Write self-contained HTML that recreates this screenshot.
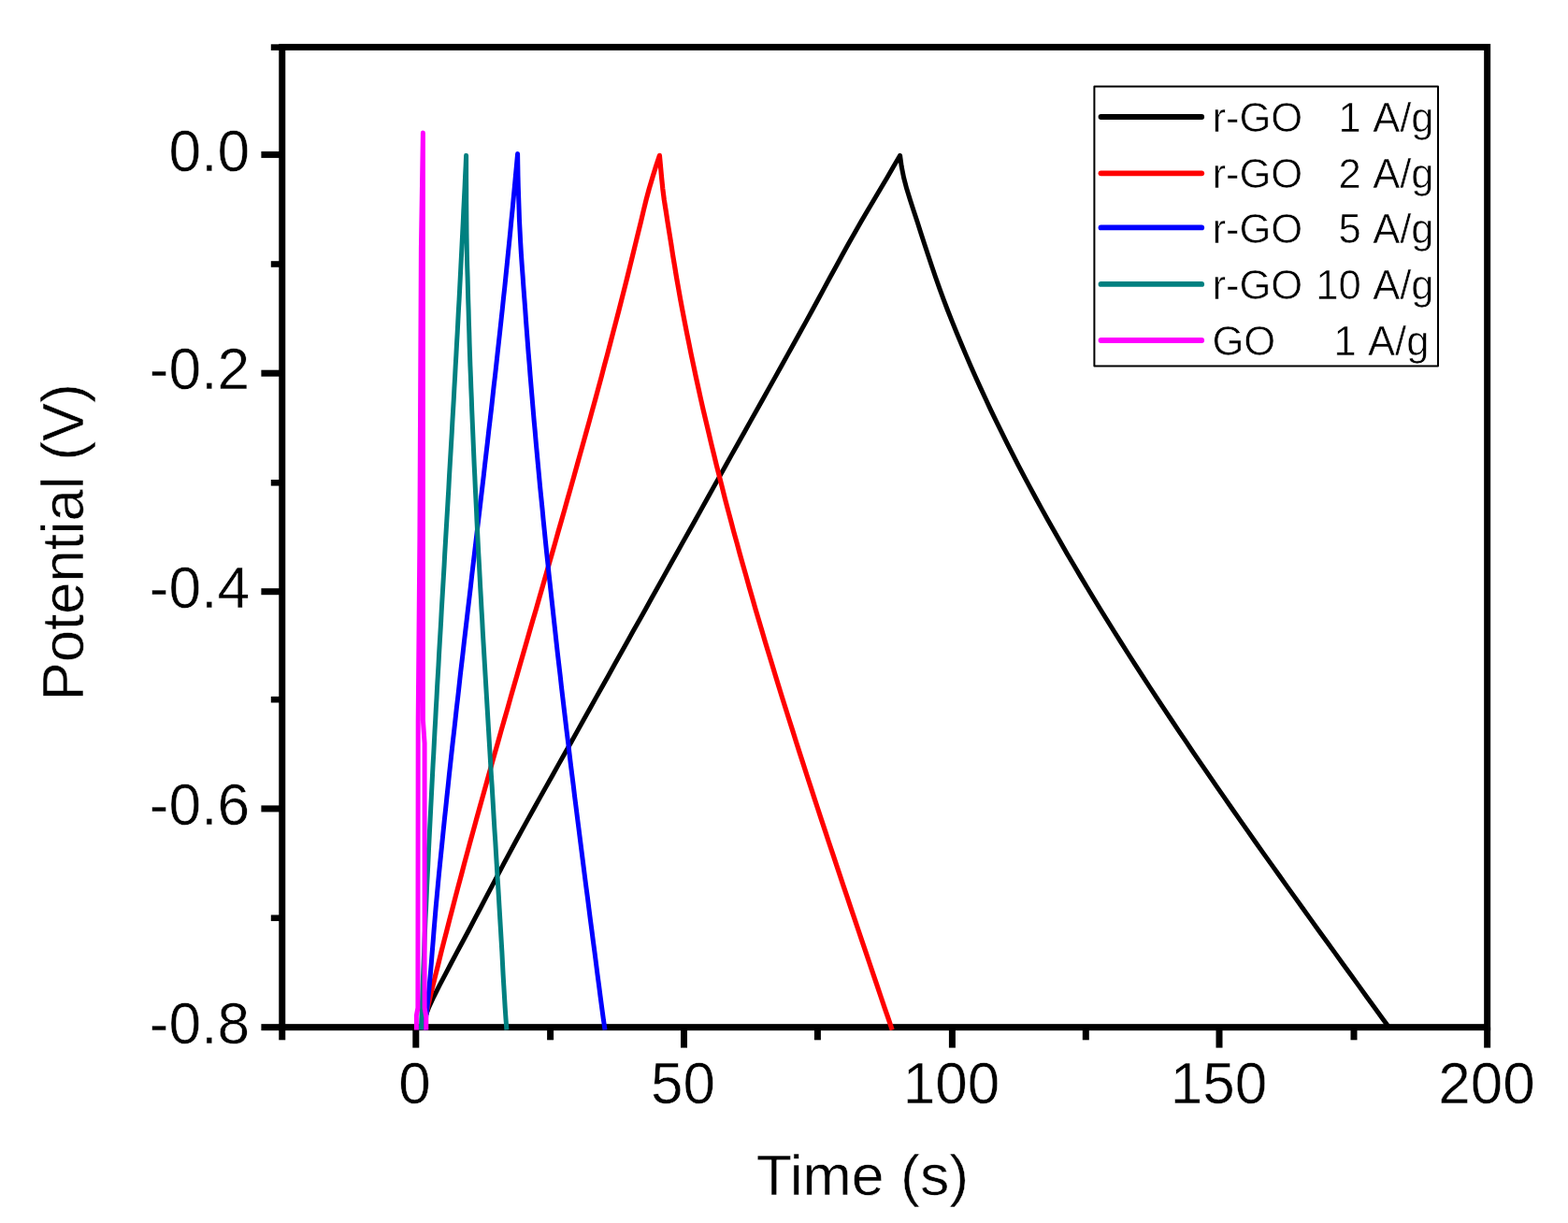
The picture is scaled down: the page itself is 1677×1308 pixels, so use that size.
<!DOCTYPE html>
<html lang="en">
<head>
<meta charset="utf-8">
<title>Galvanostatic charge-discharge curves</title>
<style>
html,body{margin:0;padding:0;background:#fff;}
body{width:1677px;height:1308px;overflow:hidden;}
svg{display:block;filter:blur(0.4px);}
</style>
</head>
<body>
<svg width="1677" height="1308" viewBox="0 0 1677 1308" role="img" aria-label="Galvanostatic charge-discharge curves: Potential (V) versus Time (s)">
<rect x="0" y="0" width="1677" height="1308" fill="#ffffff"/>
<g fill="none" stroke="#000" stroke-width="7" stroke-linecap="butt">
<rect x="301.75" y="50.4" width="1288.9" height="1048.25"/>
<line x1="279.4" y1="165.4" x2="301.75" y2="165.4"/>
<line x1="279.4" y1="399.2" x2="301.75" y2="399.2"/>
<line x1="279.4" y1="632.7" x2="301.75" y2="632.7"/>
<line x1="279.4" y1="864.9" x2="301.75" y2="864.9"/>
<line x1="279.4" y1="1098.65" x2="301.75" y2="1098.65"/>
<line x1="289.8" y1="50.6" x2="301.75" y2="50.6" stroke-width="6.6"/>
<line x1="289.8" y1="282.5" x2="301.75" y2="282.5" stroke-width="6.6"/>
<line x1="289.8" y1="516.3" x2="301.75" y2="516.3" stroke-width="6.6"/>
<line x1="289.8" y1="748.2" x2="301.75" y2="748.2" stroke-width="6.6"/>
<line x1="289.8" y1="981.8" x2="301.75" y2="981.8" stroke-width="6.6"/>
<line x1="444.8" y1="1098.65" x2="444.8" y2="1120.6"/>
<line x1="731.5" y1="1098.65" x2="731.5" y2="1120.6"/>
<line x1="1018.4" y1="1098.65" x2="1018.4" y2="1120.6"/>
<line x1="1304.0" y1="1098.65" x2="1304.0" y2="1120.6"/>
<line x1="1590.65" y1="1098.65" x2="1590.65" y2="1120.6"/>
<line x1="301.75" y1="1098.65" x2="301.75" y2="1112.3"/>
<line x1="588.6" y1="1098.65" x2="588.6" y2="1112.3"/>
<line x1="874.4" y1="1098.65" x2="874.4" y2="1112.3"/>
<line x1="1161.3" y1="1098.65" x2="1161.3" y2="1112.3"/>
<line x1="1448.0" y1="1098.65" x2="1448.0" y2="1112.3"/>
</g>
<defs><clipPath id="plotclip"><rect x="298.25" y="46.9" width="1295.9" height="1055.2"/></clipPath></defs>
<g fill="none" stroke-width="5.0" stroke-linejoin="round" stroke-linecap="butt" clip-path="url(#plotclip)">
<polyline stroke="#000000" stroke-width="5.0" points="450.5,1101.5 453.9,1089.7 458.5,1077.8 463.9,1066.0 469.9,1054.1 476.1,1042.3 482.3,1030.5 488.6,1018.6 495.0,1006.8 501.3,995.0 507.5,983.1 513.8,971.3 520.0,959.4 526.2,947.6 532.4,935.8 538.7,923.9 545.0,912.1 551.4,900.3 557.9,888.4 564.4,876.6 571.0,864.7 577.6,852.9 584.2,841.1 590.9,829.2 597.5,817.4 604.2,805.6 610.9,793.7 617.5,781.9 624.1,770.0 630.7,758.2 637.3,746.4 644.0,734.5 650.6,722.7 657.2,710.8 663.8,699.0 670.4,687.2 677.0,675.3 683.7,663.5 690.3,651.7 696.9,639.8 703.5,628.0 710.1,616.1 716.7,604.3 723.3,592.5 729.9,580.6 736.6,568.8 743.2,557.0 749.8,545.1 756.4,533.3 763.0,521.4 769.6,509.6 776.2,497.8 782.8,485.9 789.5,474.1 796.1,462.2 802.7,450.4 809.4,438.6 816.0,426.7 822.6,414.9 829.2,403.1 835.8,391.2 842.4,379.4 849.0,367.5 855.5,355.7 862.1,343.9 868.6,332.0 875.0,320.2 881.4,308.4 887.8,296.5 894.3,284.7 900.8,272.8 907.3,261.0 914.0,249.2 920.8,237.3 927.7,225.5 934.7,213.7 941.8,201.8 948.8,190.0 955.7,178.1 962.6,166.3 964.2,178.1 966.6,190.0 969.7,201.8 973.4,213.7 977.2,225.5 981.1,237.3 984.9,249.2 988.7,261.0 992.6,272.8 996.6,284.7 1000.6,296.5 1004.8,308.4 1009.1,320.2 1013.6,332.0 1018.3,343.9 1023.1,355.7 1028.0,367.5 1033.0,379.4 1038.1,391.2 1043.3,403.1 1048.7,414.9 1054.2,426.7 1059.7,438.6 1065.4,450.4 1071.2,462.2 1077.1,474.1 1083.1,485.9 1089.2,497.8 1095.4,509.6 1101.7,521.4 1108.1,533.3 1114.6,545.1 1121.2,557.0 1127.9,568.8 1134.6,580.6 1141.4,592.5 1148.4,604.3 1155.4,616.1 1162.5,628.0 1169.6,639.8 1176.9,651.7 1184.2,663.5 1191.5,675.3 1199.0,687.2 1206.5,699.0 1214.1,710.8 1221.7,722.7 1229.4,734.5 1237.2,746.4 1245.0,758.2 1252.9,770.0 1260.8,781.9 1268.8,793.7 1276.8,805.6 1284.9,817.4 1293.0,829.2 1301.2,841.1 1309.4,852.9 1317.6,864.7 1325.9,876.6 1334.2,888.4 1342.5,900.3 1350.9,912.1 1359.3,923.9 1367.8,935.8 1376.2,947.6 1384.7,959.4 1393.2,971.3 1401.7,983.1 1410.2,995.0 1418.8,1006.8 1427.4,1018.6 1435.9,1030.5 1444.5,1042.3 1453.1,1054.1 1461.6,1066.0 1470.2,1077.8 1478.9,1089.7 1487.6,1101.5"/>
<polyline stroke="#ff0000" stroke-width="5.2" points="451.8,1101.5 454.5,1089.7 457.3,1077.8 460.1,1066.0 463.0,1054.1 465.9,1042.3 468.9,1030.5 471.8,1018.6 474.8,1006.8 477.9,995.0 480.9,983.1 484.0,971.3 487.1,959.4 490.2,947.6 493.4,935.8 496.5,923.9 499.7,912.1 502.9,900.3 506.2,888.4 509.4,876.6 512.7,864.7 516.0,852.9 519.3,841.1 522.6,829.2 525.9,817.4 529.2,805.6 532.6,793.7 535.9,781.9 539.3,770.0 542.7,758.2 546.0,746.4 549.4,734.5 552.8,722.7 556.2,710.8 559.6,699.0 563.0,687.2 566.4,675.3 569.8,663.5 573.3,651.7 576.7,639.8 580.1,628.0 583.5,616.1 586.9,604.3 590.3,592.5 593.7,580.6 597.0,568.8 600.4,557.0 603.8,545.1 607.1,533.3 610.5,521.4 613.8,509.6 617.1,497.8 620.4,485.9 623.7,474.1 627.0,462.2 630.3,450.4 633.5,438.6 636.8,426.7 640.0,414.9 643.2,403.1 646.3,391.2 649.5,379.4 652.6,367.5 655.7,355.7 658.8,343.9 661.9,332.0 664.9,320.2 667.9,308.4 670.9,296.5 673.8,284.7 676.7,272.8 679.6,261.0 682.5,249.2 685.4,237.3 688.2,225.5 691.1,213.7 694.3,201.8 697.8,190.0 701.5,178.1 705.4,166.3 706.5,178.1 707.6,190.0 708.8,201.8 710.3,213.7 712.2,225.5 714.0,237.3 715.9,249.2 717.8,261.0 719.6,272.8 721.6,284.7 723.5,296.5 725.6,308.4 727.7,320.2 729.9,332.0 732.2,343.9 734.5,355.7 736.9,367.5 739.3,379.4 741.8,391.2 744.3,403.1 746.9,414.9 749.5,426.7 752.2,438.6 755.0,450.4 757.8,462.2 760.6,474.1 763.5,485.9 766.4,497.8 769.4,509.6 772.4,521.4 775.4,533.3 778.5,545.1 781.7,557.0 784.8,568.8 788.1,580.6 791.3,592.5 794.6,604.3 798.0,616.1 801.3,628.0 804.7,639.8 808.1,651.7 811.6,663.5 815.1,675.3 818.6,687.2 822.2,699.0 825.8,710.8 829.4,722.7 833.0,734.5 836.7,746.4 840.4,758.2 844.1,770.0 847.9,781.9 851.6,793.7 855.4,805.6 859.2,817.4 863.0,829.2 866.9,841.1 870.7,852.9 874.6,864.7 878.5,876.6 882.4,888.4 886.3,900.3 890.3,912.1 894.2,923.9 898.2,935.8 902.1,947.6 906.1,959.4 910.1,971.3 914.1,983.1 918.1,995.0 922.1,1006.8 926.1,1018.6 930.1,1030.5 934.1,1042.3 938.1,1054.1 942.1,1066.0 946.1,1077.8 950.2,1089.7 954.2,1101.5"/>
<polyline stroke="#0000ff" stroke-width="5.0" points="453.8,1101.5 455.4,1089.6 456.9,1077.8 458.1,1065.9 459.2,1054.1 460.3,1042.2 461.3,1030.3 462.2,1018.5 463.2,1006.6 464.1,994.8 465.1,982.9 466.1,971.0 467.2,959.2 468.3,947.3 469.4,935.5 470.6,923.6 471.8,911.7 473.0,899.9 474.2,888.0 475.4,876.2 476.7,864.3 477.9,852.5 479.2,840.6 480.4,828.7 481.7,816.9 483.0,805.0 484.3,793.2 485.7,781.3 487.0,769.4 488.3,757.6 489.7,745.7 491.0,733.9 492.3,722.0 493.7,710.1 495.1,698.3 496.4,686.4 497.8,674.6 499.2,662.7 500.6,650.8 502.0,639.0 503.4,627.1 504.7,615.3 506.1,603.4 507.5,591.5 508.9,579.7 510.3,567.8 511.7,556.0 513.1,544.1 514.5,532.2 515.9,520.4 517.3,508.5 518.6,496.7 520.0,484.8 521.4,472.9 522.7,461.1 524.1,449.2 525.5,437.4 526.8,425.5 528.1,413.6 529.5,401.8 530.8,389.9 532.1,378.1 533.4,366.2 534.7,354.4 536.0,342.5 537.3,330.6 538.5,318.8 539.8,306.9 541.0,295.1 542.2,283.2 543.4,271.3 544.6,259.5 545.8,247.6 546.9,235.8 548.1,223.9 549.2,212.0 550.3,200.2 551.4,188.3 552.5,176.5 553.6,164.6 553.8,176.5 554.0,188.3 554.3,200.2 554.7,212.0 555.1,223.9 555.5,235.8 556.1,247.6 556.7,259.5 557.4,271.3 558.2,283.2 559.1,295.1 559.9,306.9 560.8,318.8 561.7,330.6 562.5,342.5 563.4,354.4 564.3,366.2 565.2,378.1 566.2,389.9 567.1,401.8 568.1,413.6 569.1,425.5 570.1,437.4 571.1,449.2 572.2,461.1 573.2,472.9 574.3,484.8 575.4,496.7 576.5,508.5 577.6,520.4 578.8,532.2 580.0,544.1 581.1,556.0 582.3,567.8 583.5,579.7 584.7,591.5 586.0,603.4 587.2,615.3 588.5,627.1 589.8,639.0 591.1,650.8 592.4,662.7 593.7,674.6 595.0,686.4 596.3,698.3 597.7,710.1 599.1,722.0 600.4,733.9 601.8,745.7 603.2,757.6 604.6,769.4 606.0,781.3 607.5,793.2 608.9,805.0 610.3,816.9 611.8,828.7 613.3,840.6 614.7,852.5 616.2,864.3 617.7,876.2 619.2,888.0 620.7,899.9 622.2,911.7 623.7,923.6 625.2,935.5 626.7,947.3 628.3,959.2 629.8,971.0 631.3,982.9 632.9,994.8 634.4,1006.6 636.0,1018.5 637.5,1030.3 639.0,1042.2 640.6,1054.1 642.1,1065.9 643.7,1077.8 645.3,1089.6 647.0,1101.5"/>
<polyline stroke="#008080" stroke-width="5.0" points="450.4,1101.5 450.8,1089.7 451.3,1077.8 451.7,1066.0 452.1,1054.1 452.6,1042.3 453.1,1030.5 453.6,1018.6 454.0,1006.8 454.5,994.9 455.0,983.1 455.6,971.3 456.1,959.4 456.6,947.6 457.2,935.8 457.8,923.9 458.3,912.1 458.9,900.2 459.5,888.4 460.1,876.6 460.7,864.7 461.3,852.9 461.9,841.0 462.5,829.2 463.1,817.4 463.8,805.5 464.4,793.7 465.0,781.8 465.7,770.0 466.3,758.2 467.0,746.3 467.6,734.5 468.3,722.6 469.0,710.8 469.6,699.0 470.3,687.1 471.0,675.3 471.7,663.4 472.3,651.6 473.0,639.8 473.7,627.9 474.4,616.1 475.1,604.3 475.7,592.4 476.4,580.6 477.1,568.7 477.8,556.9 478.5,545.1 479.2,533.2 479.9,521.4 480.5,509.5 481.2,497.7 481.9,485.9 482.6,474.0 483.3,462.2 483.9,450.3 484.6,438.5 485.3,426.7 485.9,414.8 486.6,403.0 487.2,391.1 487.9,379.3 488.5,367.5 489.2,355.6 489.8,343.8 490.4,331.9 491.1,320.1 491.7,308.3 492.3,296.4 492.9,284.6 493.5,272.8 494.1,260.9 494.7,249.1 495.3,237.2 495.8,225.4 496.4,213.6 497.0,201.7 497.5,189.9 498.1,178.0 498.6,166.2 498.6,178.0 498.6,189.9 498.7,201.7 498.7,213.6 498.8,225.4 498.9,237.2 499.0,249.1 499.2,260.9 499.4,272.8 499.7,284.6 500.1,296.4 500.4,308.3 500.7,320.1 501.1,331.9 501.4,343.8 501.8,355.6 502.1,367.5 502.5,379.3 502.9,391.1 503.4,403.0 503.8,414.8 504.3,426.7 504.7,438.5 505.2,450.3 505.7,462.2 506.2,474.0 506.7,485.9 507.2,497.7 507.8,509.5 508.3,521.4 508.9,533.2 509.5,545.1 510.0,556.9 510.6,568.7 511.2,580.6 511.8,592.4 512.5,604.3 513.1,616.1 513.7,627.9 514.4,639.8 515.0,651.6 515.7,663.4 516.3,675.3 517.0,687.1 517.7,699.0 518.4,710.8 519.1,722.6 519.8,734.5 520.5,746.3 521.2,758.2 521.9,770.0 522.6,781.8 523.3,793.7 524.0,805.5 524.7,817.4 525.4,829.2 526.2,841.0 526.9,852.9 527.6,864.7 528.3,876.6 529.0,888.4 529.8,900.2 530.5,912.1 531.2,923.9 531.9,935.8 532.7,947.6 533.4,959.4 534.1,971.3 534.8,983.1 535.5,994.9 536.2,1006.8 536.9,1018.6 537.5,1030.5 538.1,1042.3 538.8,1054.1 539.5,1066.0 540.2,1077.8 541.0,1089.7 541.9,1101.5"/>
<polyline stroke="#ff00ff" stroke-width="5.0" points="445.4,1101.5 445.4,1086.0 446.9,1078.0 447.2,771.0 448.9,575.0 450.4,266.0 452.4,142.0 452.4,770.0 454.1,795.0 454.1,1078.0 455.8,1088.0 455.8,1101.5"/>
</g>
<g font-family="'Liberation Sans', Arial, sans-serif" fill="#000" stroke="#fff" stroke-width="0.5" stroke-linejoin="round">
<g font-size="62px" text-anchor="end">
<text transform="translate(267.1,182.6) scale(1.004,1.025)">0.0</text>
<text transform="translate(267.1,416.4) scale(1.004,1.025)">-0.2</text>
<text transform="translate(267.1,649.9) scale(1.004,1.025)">-0.4</text>
<text transform="translate(267.1,882.1) scale(1.004,1.025)">-0.6</text>
<text transform="translate(267.1,1115.9) scale(1.004,1.025)">-0.8</text>
</g>
<g font-size="62px" text-anchor="middle">
<text transform="translate(443.5,1179.7) scale(1,1.03)">0</text>
<text transform="translate(730.4,1179.7) scale(1,1.03)">50</text>
<text transform="translate(1017.5,1179.7) scale(1,1.03)">100</text>
<text transform="translate(1303.5,1179.7) scale(1,1.03)">150</text>
<text transform="translate(1590,1179.7) scale(1,1.03)">200</text>
</g>
<text font-size="62px" text-anchor="middle" transform="translate(922.4,1277.7) scale(1.011,1)">Time (s)</text>
<text font-size="62px" text-anchor="middle" transform="translate(89,579.8) rotate(-90) scale(0.994,1.027)">Potential (V)</text>
<rect x="1170.4" y="92.5" width="367.6" height="298.9" fill="#fff" stroke="#000" stroke-width="2"/>
<line x1="1177.5" y1="125.0" x2="1285.2" y2="125.0" stroke="#000000" stroke-width="5.8" stroke-linecap="round"/>
<text font-size="43.6px" stroke-width="0.6" x="1296.4" y="141.2">r-GO</text>
<text font-size="43.6px" stroke-width="0.6" text-anchor="end" word-spacing="2.6" x="1533.6" y="141.2">1 A/g</text>
<line x1="1177.5" y1="185.3" x2="1285.2" y2="185.3" stroke="#ff0000" stroke-width="5.8" stroke-linecap="round"/>
<text font-size="43.6px" stroke-width="0.6" x="1296.4" y="201.4">r-GO</text>
<text font-size="43.6px" stroke-width="0.6" text-anchor="end" word-spacing="2.6" x="1533.6" y="201.4">2 A/g</text>
<line x1="1177.5" y1="243.4" x2="1285.2" y2="243.4" stroke="#0000ff" stroke-width="5.8" stroke-linecap="round"/>
<text font-size="43.6px" stroke-width="0.6" x="1296.4" y="260.1">r-GO</text>
<text font-size="43.6px" stroke-width="0.6" text-anchor="end" word-spacing="2.6" x="1533.6" y="260.1">5 A/g</text>
<line x1="1177.5" y1="303.9" x2="1285.2" y2="303.9" stroke="#008080" stroke-width="5.8" stroke-linecap="round"/>
<text font-size="43.6px" stroke-width="0.6" x="1296.4" y="319.9">r-GO</text>
<text font-size="43.6px" stroke-width="0.6" text-anchor="end" word-spacing="2.6" x="1533.6" y="319.9">10 A/g</text>
<line x1="1177.5" y1="364.0" x2="1285.2" y2="364.0" stroke="#ff00ff" stroke-width="5.8" stroke-linecap="round"/>
<text font-size="43.6px" stroke-width="0.6" x="1296.4" y="379.7">GO</text>
<text font-size="43.6px" stroke-width="0.6" text-anchor="end" word-spacing="2.6" x="1528.4" y="379.7">1 A/g</text>
</g>
</svg>
</body>
</html>
